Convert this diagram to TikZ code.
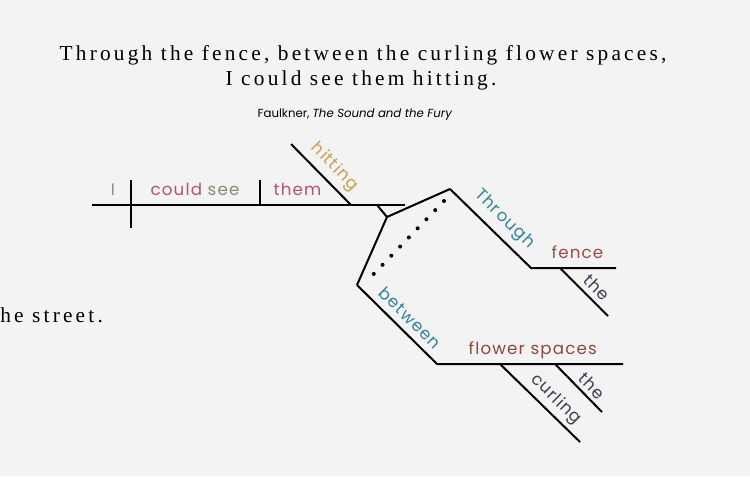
\documentclass[tikz,border=0pt]{standalone}
\usepackage{fontspec}
\setmainfont{Liberation Serif}
\newfontfamily\titlefont[LetterSpace=15]{Liberation Serif}
\newfontfamily\wordfont[LetterSpace=7]{Poppins}
\newfontfamily\sourcefont{Poppins}
\usetikzlibrary{positioning}

\definecolor{paper}{RGB}{243,243,243}
\definecolor{subjcol}{RGB}{150,132,165}
\definecolor{pinkcol}{RGB}{176,82,122}
\definecolor{seecol}{RGB}{140,138,112}
\definecolor{goldcol}{RGB}{200,160,80}
\definecolor{tealcol}{RGB}{52,132,150}
\definecolor{fencecol}{RGB}{160,72,72}
\definecolor{flowercol}{RGB}{140,72,62}
\definecolor{slatecol}{RGB}{62,62,82}

\tikzset{
  rule/.style={line width=1.5pt, black},
  word/.style={font=\wordfont\fontsize{12.5}{14}\selectfont, inner sep=1pt},
  headline/.style={font=\titlefont\fontsize{16}{19}\selectfont, inner sep=0pt}
}

\begin{document}
\begin{tikzpicture}[x=0.75pt, y=-0.75pt]
  % الخلفية
  \useasboundingbox[fill=paper] (0,0) rectangle (750,476);

  % العنوان
  \node[headline, anchor=base] (line1) at (363,60) {Through the fence, between the curling flower spaces,};
  \node[headline, anchor=base] (line2) at (361,85) {I could see them hitting.};
  \node[font=\sourcefont\fontsize{8.8}{10}\selectfont, inner sep=0pt, anchor=base] (source) at (355,117) {Faulkner, \textit{The Sound and the Fury}};
  \node[headline, anchor=base west] (street) at (0,322) {he street.};

  % نقاط الخطوط
  \coordinate (base-l) at (92,205);
  \coordinate (base-r) at (405,205);
  \coordinate (subj-t) at (131,180);
  \coordinate (subj-b) at (131,228);
  \coordinate (verb-t) at (260,180);
  \coordinate (verb-b) at (260,205);
  \coordinate (hit-t) at (291,144);
  \coordinate (hit-b) at (351,205);
  \coordinate (fork-s) at (377,205);
  \coordinate (fork) at (387,217);
  \coordinate (thr-t) at (450,189);
  \coordinate (thr-b) at (531,268);
  \coordinate (fence-r) at (616,268);
  \coordinate (the1-t) at (560,268);
  \coordinate (the1-b) at (608,316);
  \coordinate (btw-t) at (357,285);
  \coordinate (btw-b) at (437,364);
  \coordinate (flower-r) at (623,364);
  \coordinate (the2-t) at (555,364);
  \coordinate (the2-b) at (602,412);
  \coordinate (curl-t) at (500,364);
  \coordinate (curl-b) at (580,442);
  \coordinate (dot-a) at (444,201);
  \coordinate (dot-b) at (365,283);

  % الخط الأساسي
  \draw[rule] (base-l) -- (base-r);
  \draw[rule] (subj-t) -- (subj-b);
  \draw[rule] (verb-t) -- (verb-b);
  \draw[rule] (hit-t) -- node[word, pos=0.55, sloped, above=3pt, text=goldcol] (hitting) {hitting} (hit-b);

  % الشوكة
  \draw[rule] (fork-s) -- (fork);
  \draw[rule] (fork) -- (thr-t);
  \draw[rule] (fork) -- (btw-t);
  \draw[line width=3pt, line cap=round, dash pattern=on 0pt off 9.49pt] (dot-a) -- (dot-b);

  % Through the fence
  \draw[rule] (thr-t) -- node[word, pos=0.53, sloped, above=4pt, text=tealcol] (through) {Through} (thr-b) -- (fence-r);
  \draw[rule] (the1-t) -- node[word, pos=0.59, sloped, above=3pt, text=slatecol] (the1) {the} (the1-b);

  % between the curling flower spaces
  \draw[rule] (btw-t) -- node[word, pos=0.54, sloped, above=4pt, text=tealcol] (between) {between} (btw-b) -- (flower-r);
  \draw[rule] (the2-t) -- node[word, pos=0.62, sloped, above=2pt, text=slatecol] (the2) {the} (the2-b);
  \draw[rule] (curl-t) -- node[word, pos=0.58, sloped, above=2pt, text=slatecol] (curling) {curling} (curl-b);

  % الكلمات الأفقية
  \node[word, anchor=base, text=subjcol] (subj) at (113,195) {I};
  \node[word, anchor=base west] (verb) at (149,195) {\textcolor{pinkcol}{could} \textcolor{seecol}{see}};
  \node[word, anchor=base west, text=pinkcol] (obj) at (272,195) {them};
  \node[word, anchor=base west, text=fencecol] (fence) at (550,258) {fence};
  \node[word, anchor=base west, text=flowercol] (flower) at (467,354) {flower spaces};
\end{tikzpicture}
\end{document}
